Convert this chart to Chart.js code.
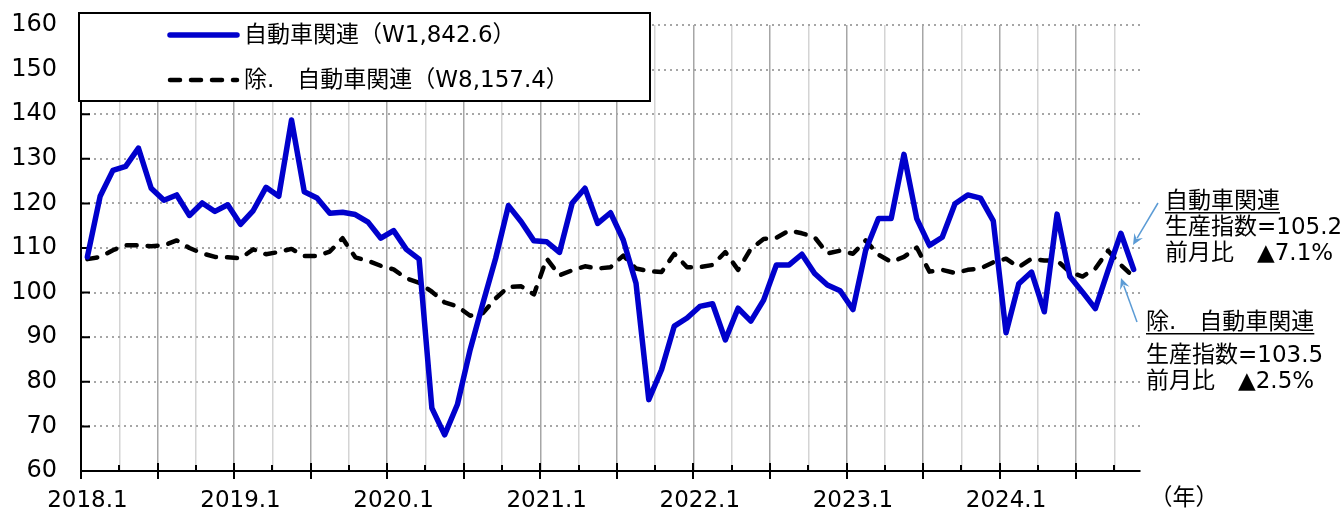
<!DOCTYPE html>
<html>
<head>
<meta charset="utf-8">
<script src="https://cdn.jsdelivr.net/npm/chart.js@4"></script>
<style>
  html, body { margin: 0; padding: 0; background: #fff; }
  #wrap { width: 1343px; height: 513px; position: relative; }
</style>
</head>
<body>
<div id="wrap"><canvas id="chart"></canvas></div>
<script>
// months 2018.1 - 2024.11
var years = [2018, 2019, 2020, 2021, 2022, 2023, 2024];
var lastMonth = 11;
var yearTicks = ['2018.1', '2019.1', '2020.1', '2021.1', '2022.1', '2023.1', '2024.1'];
var yTicks = [60, 70, 80, 90, 100, 110, 120, 130, 140, 150, 160];

var autoRelated = [
  108.0, 121.6, 127.4, 128.3, 132.4, 123.4, 120.7, 121.9, 117.3, 120.1, 118.2, 119.7,
  115.3, 118.4, 123.6, 121.6, 138.7, 122.6, 121.2, 117.8, 118.0, 117.5, 115.8, 112.2,
  113.9, 109.7, 107.5, 74.1, 68.1, 74.9, 87.2, 97.6, 107.7, 119.5, 115.9, 111.6,
  111.4, 109.0, 120.1, 123.4, 115.5, 117.9, 111.8, 102.1, 76.0, 82.7, 92.5, 94.3,
  96.9, 97.5, 89.4, 96.5, 93.6, 98.3, 106.2, 106.2, 108.6, 104.3, 101.7, 100.4,
  96.2, 109.5, 116.6, 116.6, 131.0, 116.6, 110.6, 112.4, 119.9, 121.9, 121.2, 116.1,
  91.0, 102.0, 104.6, 95.7, 117.6, 103.6, 100.1, 96.4, 105.0, 113.3, 105.2
];
var exAutoRelated = [
  107.5, 108.0, 109.5, 110.6, 110.6, 110.4, 110.6, 111.7, 110.0, 108.8, 108.0, 107.9,
  107.7, 109.7, 108.6, 109.1, 109.8, 108.2, 108.2, 109.2, 112.2, 107.9, 107.1, 106.0,
  105.2, 103.2, 102.2, 100.2, 97.8, 96.9, 94.8, 95.4, 98.7, 101.3, 101.4, 99.6,
  107.6, 103.9, 105.0, 105.9, 105.4, 105.7, 108.3, 105.4, 104.8, 104.6, 108.7, 105.7,
  105.7, 106.2, 109.1, 105.1, 109.8, 112.0, 112.3, 113.9, 113.3, 112.4, 108.8, 109.4,
  108.7, 111.7, 108.5, 106.9, 108.0, 110.1, 104.7, 105.1, 104.4, 105.1, 105.4, 106.8,
  107.6, 105.7, 107.6, 107.2, 107.2, 104.6, 103.6, 105.4, 109.4, 106.2, 103.5
];

var seriesNames = ['自動車関連（W1,842.6）', '除.　自動車関連（W8,157.4）'];
var notes = [
  { title: '自動車関連', lines: ['生産指数=105.2', '前月比　▲7.1%'] },
  { title: '除.　自動車関連', lines: ['生産指数=103.5', '前月比　▲2.5%'] }
];
var yearLabel = '（年）';

var labels = [];
years.forEach(function (y) {
  for (var m = 1; m <= 12; m++) {
    if (y === years[years.length - 1] && m > lastMonth) break;
    labels.push(y + '.' + m);
  }
});

var FONT = '"DejaVu Sans", "Noto Sans CJK JP", sans-serif';
var BLUE = '#0000cc';
var ARROW = '#5b9bd5';

// small inside tick marks on both axes
var axisTicks = {
  id: 'axisTicks',
  beforeDatasetsDraw: function (chart) {
    var ctx = chart.ctx, xs = chart.scales.x, ys = chart.scales.y;
    var base = ys.getPixelForValue(60);
    ctx.save();
    ctx.strokeStyle = '#000';
    ctx.lineWidth = 2;
    ctx.beginPath();
    yTicks.forEach(function (v) {
      var py = ys.getPixelForValue(v);
      ctx.moveTo(xs.left, py);
      ctx.lineTo(xs.left + 9, py);
    });
    for (var k = 0; k < labels.length; k += 3) {
      var px = Math.round(xs.getPixelForValue(k - 0.5));
      if (k % 6 === 0) {
        ctx.moveTo(px, base - 8);
        ctx.lineTo(px, base + 8);
      } else {
        ctx.moveTo(px, base - 6);
        ctx.lineTo(px, base);
      }
    }
    ctx.stroke();
    ctx.restore();
  }
};

// legend box, year label and the notes on the right
var extras = {
  id: 'extras',
  afterDraw: function (chart) {
    var ctx = chart.ctx;
    ctx.save();

    // legend box
    ctx.fillStyle = '#fff';
    ctx.fillRect(79, 13, 571, 88);
    ctx.strokeStyle = '#000';
    ctx.lineWidth = 2;
    ctx.strokeRect(79, 13, 571, 88);

    ctx.font = '23px ' + FONT;
    ctx.textBaseline = 'middle';
    ctx.fillStyle = '#000';
    chart.data.datasets.forEach(function (ds, i) {
      var y = 35 + i * 45;
      ctx.save();
      ctx.strokeStyle = ds.borderColor;
      ctx.lineWidth = ds.borderWidth;
      ctx.lineCap = 'round';
      ctx.setLineDash(ds.borderDash || []);
      ctx.beginPath();
      ctx.moveTo(170, y);
      ctx.lineTo(237, y);
      ctx.stroke();
      ctx.restore();
      ctx.fillText(ds.label, 244, y + 1);
    });

    // (年)
    ctx.textAlign = 'center';
    ctx.fillText(yearLabel, 1184, 499);
    ctx.textAlign = 'left';

    // notes
    var spots = [
      { x: 1165, y: 202, gap: [26, 52], from: [1158, 203], to: [1133, 245] },
      { x: 1146, y: 323, gap: [33, 59], from: [1137, 322], to: [1121, 278] }
    ];
    notes.forEach(function (n, i) {
      var s = spots[i];
      ctx.fillStyle = '#000';
      ctx.fillText(n.title, s.x, s.y);
      var w = ctx.measureText(n.title).width;
      ctx.fillRect(s.x, s.y + 10, w, 1.5);
      n.lines.forEach(function (t, j) {
        ctx.fillText(t, s.x, s.y + s.gap[j]);
      });
      // arrow
      var dx = s.to[0] - s.from[0], dy = s.to[1] - s.from[1];
      var len = Math.sqrt(dx * dx + dy * dy), ux = dx / len, uy = dy / len;
      ctx.strokeStyle = ARROW;
      ctx.fillStyle = ARROW;
      ctx.lineWidth = 1.5;
      ctx.beginPath();
      ctx.moveTo(s.from[0], s.from[1]);
      ctx.lineTo(s.to[0] - ux * 8, s.to[1] - uy * 8);
      ctx.stroke();
      ctx.beginPath();
      ctx.moveTo(s.to[0], s.to[1]);
      ctx.lineTo(s.to[0] - ux * 11 - uy * 5, s.to[1] - uy * 11 + ux * 5);
      ctx.lineTo(s.to[0] - ux * 7, s.to[1] - uy * 7);
      ctx.lineTo(s.to[0] - ux * 11 + uy * 5, s.to[1] - uy * 11 - ux * 5);
      ctx.closePath();
      ctx.fill();
    });
    ctx.restore();
  }
};

var ctx = document.getElementById('chart').getContext('2d');
new Chart(ctx, {
  type: 'line',
  data: {
    labels: labels,
    datasets: [
      {
        label: seriesNames[0],
        data: autoRelated,
        borderColor: BLUE,
        borderWidth: 5.5,
        borderJoinStyle: 'round',
        borderCapStyle: 'round',
        pointRadius: 0,
        tension: 0
      },
      {
        label: seriesNames[1],
        data: exAutoRelated,
        borderColor: '#000',
        borderWidth: 4.5,
        borderDash: [10, 11],
        borderCapStyle: 'round',
        borderJoinStyle: 'round',
        pointRadius: 0,
        tension: 0
      }
    ]
  },
  options: {
    responsive: true,
    maintainAspectRatio: false,
    animation: false,
    layout: { padding: { left: 11, right: 203, top: 25, bottom: 0 } },
    plugins: {
      legend: { display: false },
      tooltip: { enabled: false }
    },
    scales: {
      x: {
        type: 'category',
        offset: true,
        afterFit: function (s) { s.height = 42; },
        grid: {
          offset: true,
          drawTicks: false,
          lineWidth: 1.5,
          color: function (c) {
            if (c.index === undefined) return 'rgba(0,0,0,0)';
            if (c.index % 6 === 0) return '#a6a6a6';
            if (c.index % 3 === 0) return '#d4d4d4';
            return 'rgba(0,0,0,0)';
          }
        },
        border: { color: '#000', width: 2 },
        ticks: {
          autoSkip: false,
          maxRotation: 0,
          minRotation: 0,
          padding: 19,
          color: '#000',
          font: { family: FONT, size: 23, lineHeight: 1.0 },
          callback: function (v, i) {
            var l = labels[i];
            return yearTicks.indexOf(l) >= 0 ? l : '';
          }
        }
      },
      y: {
        min: 60,
        max: 160,
        afterFit: function (s) { s.width = 70; s.paddingTop = 0; s.paddingBottom = 0; },
        grid: { drawTicks: false, color: '#a6a6a6', lineWidth: 2 },
        border: { color: '#000', width: 2, dash: [2, 4] },
        ticks: {
          stepSize: 10,
          padding: 24,
          color: '#000',
          font: { family: FONT, size: 24 }
        }
      }
    }
  },
  plugins: [axisTicks, extras]
});
</script>
</body>
</html>
